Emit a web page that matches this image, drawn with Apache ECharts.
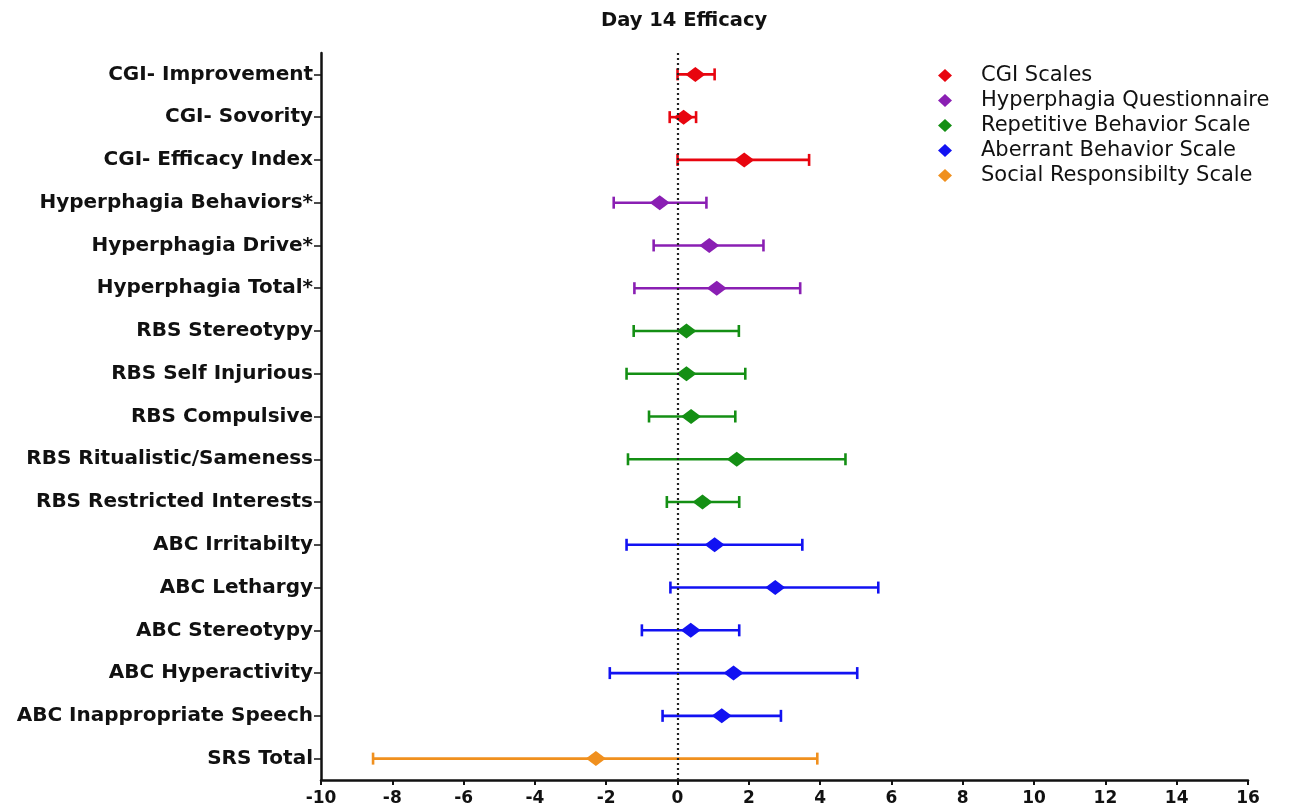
<!DOCTYPE html>
<html>
<head>
<meta charset="utf-8">
<script src="https://cdn.jsdelivr.net/npm/echarts@6/dist/echarts.min.js"></script>
<style>html,body{margin:0;padding:0;background:#fff;}#c{width:1308px;height:812px;}</style>
</head>
<body>
<div id="c"></div>
<script>
const categories = ['CGI- Improvement','CGI- Sovority','CGI- Efficacy Index','Hyperphagia Behaviors*','Hyperphagia Drive*','Hyperphagia Total*','RBS Stereotypy','RBS Self Injurious','RBS Compulsive','RBS Ritualistic/Sameness','RBS Restricted Interests','ABC Irritabilty','ABC Lethargy','ABC Stereotypy','ABC Hyperactivity','ABC Inappropriate Speech','SRS Total'];
const groupOf = [0,0,0,1,1,1,2,2,2,2,2,3,3,3,3,3,4];
const meanValues = [0.5,0.17,1.87,-0.5,0.89,1.1,0.25,0.25,0.38,1.66,0.7,1.04,2.74,0.37,1.57,1.24,-2.29];
const lowValues  = [0,-0.22,0,-1.79,-0.67,-1.21,-1.23,-1.43,-0.8,-1.39,-0.3,-1.43,-0.2,-1.0,-1.9,-0.42,-8.54];
const highValues = [1.04,0.52,3.69,0.81,2.41,3.44,1.72,1.9,1.62,4.71,1.73,3.5,5.63,1.73,5.04,2.9,3.92];
const groupNames = ['CGI Scales','Hyperphagia Questionnaire','Repetitive Behavior Scale','Aberrant Behavior Scale','Social Responsibilty Scale'];
const groupColors = ['#e8050f','#8a1fb3','#148f14','#1212f2','#f0901e'];
const xTicks = {min:-10, max:16, interval:2};

const FONT = 'DejaVu Sans';
const series = [];
groupNames.forEach((g, gi) => {
  const pts = [], bars = [];
  categories.forEach((c, i) => {
    if (groupOf[i] !== gi) return;
    pts.push([meanValues[i], c]);
    bars.push([lowValues[i], highValues[i], c]);
  });
  series.push({
    name: g + ' err', type: 'custom', z: 2,
    data: bars,
    encode: {x: [0,1], y: 2},
    renderItem: function (params, api) {
      const p1 = api.coord([api.value(0), api.value(2)]);
      const p2 = api.coord([api.value(1), api.value(2)]);
      const h = 6;
      const style = {stroke: groupColors[gi], lineWidth: 2.6, fill: null};
      return {type: 'group', children: [
        {type: 'line', shape: {x1: p1[0], y1: p1[1], x2: p2[0], y2: p2[1]}, style: style},
        {type: 'line', shape: {x1: p1[0], y1: p1[1]-h, x2: p1[0], y2: p1[1]+h}, style: style},
        {type: 'line', shape: {x1: p2[0], y1: p2[1]-h, x2: p2[0], y2: p2[1]+h}, style: style}
      ]};
    }
  });
  series.push({
    name: g, type: 'scatter', z: 3,
    symbol: 'diamond', symbolSize: [20, 15],
    itemStyle: {color: groupColors[gi], opacity: 1},
    data: pts
  });
});
series.push({
  name: 'zero', type: 'scatter', data: [], silent: true,
  markLine: {
    silent: true, symbol: 'none', label: {show: false},
    lineStyle: {color: '#222', type: [2, 3], width: 2.2},
    data: [{xAxis: 0}]
  }
});

const chart = echarts.init(document.getElementById('c'), null, {renderer: 'canvas'});
chart.setOption({
  backgroundColor: '#fff',
  animation: false,
  title: {
    text: 'Day 14 Efficacy', left: 596, top: 6,
    textStyle: {fontFamily: FONT, fontWeight: 'bold', fontSize: 19.5, color: '#111'}
  },
  legend: {
    data: groupNames, orient: 'vertical', left: 933, top: 60,
    itemWidth: 14, itemHeight: 13, itemGap: 4, icon: 'diamond',
    textStyle: {fontFamily: FONT, fontSize: 21, color: '#111', lineHeight: 21, padding: [0,0,0,24]}
  },
  grid: {left: 321, right: 60, top: 53, bottom: 32, containLabel: false},
  xAxis: {
    type: 'value', min: xTicks.min, max: xTicks.max, interval: xTicks.interval,
    axisLine: {show: true, onZero: false, lineStyle: {color: '#111', width: 2.5}},
    axisTick: {show: true, length: 5, lineStyle: {color: '#111', width: 2}},
    splitLine: {show: false},
    axisLabel: {fontFamily: FONT, fontWeight: 'bold', fontSize: 17, color: '#111', margin: 10}
  },
  yAxis: {
    type: 'category', data: categories, inverse: true,
    axisLine: {show: true, onZero: false, lineStyle: {color: '#111', width: 2.5}},
    axisTick: {show: true, alignWithLabel: true, length: 7, lineStyle: {color: '#111', width: 1.5}},
    splitLine: {show: false},
    axisLabel: {fontFamily: FONT, fontWeight: 'bold', fontSize: 20, color: '#111', margin: 8}
  },
  series: series
});
</script>
</body>
</html>
